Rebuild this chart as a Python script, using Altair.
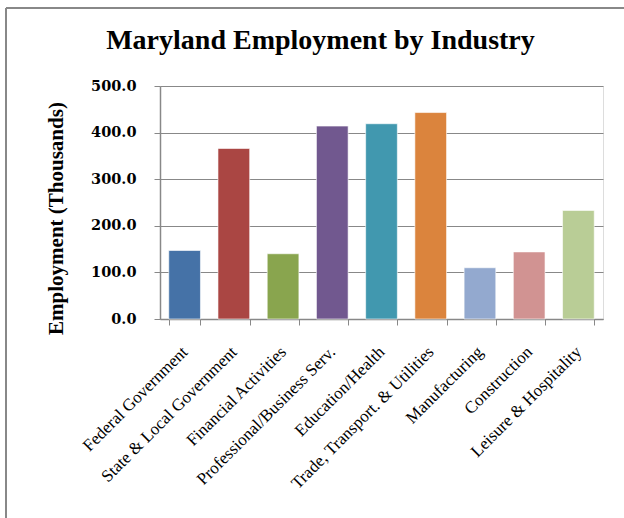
import altair as alt
import pandas as pd

industries = [
    "Federal Government",
    "State & Local Government",
    "Financial Activities",
    "Professional/Business Serv.",
    "Education/Health",
    "Trade, Transport. & Utilities",
    "Manufacturing",
    "Construction",
    "Leisure & Hospitality",
]
employment = [147, 366, 140, 414, 419, 443, 110, 144, 233]
colors = ["#4572A7", "#AA4643", "#89A54E", "#71588F", "#4198AF",
          "#DB843D", "#93A9CF", "#D19392", "#B9CD96"]

df = pd.DataFrame({"industry": industries, "employment": employment})

serif = "Liberation Serif"

bars = alt.Chart(df).mark_bar(stroke="white", strokeWidth=1, strokeOpacity=0.6).encode(
    x=alt.X("industry:N", sort=industries,
            scale=alt.Scale(paddingInner=0.356, paddingOuter=0.178),
            axis=alt.Axis(title=None, labelAngle=-45, labelAlign="right",
                          labelBaseline="middle", labelFont=serif, labelFontSize=17,
                          labelColor="black", labelPadding=24, labelLimit=300,
                          tickBand="extent", tickColor="#888", tickSize=6,
                          domainColor="#888", domainWidth=1.5, grid=False)),
    y=alt.Y("employment:Q",
            scale=alt.Scale(domain=[0, 500], nice=False),
            axis=alt.Axis(title="Employment (Thousands)", values=[0, 100, 200, 300, 400, 500],
                          format=".1f", labelFont="DejaVu Serif", labelFontSize=14.5,
                          labelFontWeight="bold", labelColor="black", labelPadding=18,
                          tickColor="#888", tickSize=6, domainColor="#888",
                          domainWidth=1.5, gridColor="#888", gridWidth=1.2,
                          titleFont=serif, titleFontSize=21, titleFontWeight="bold",
                          titleColor="black", titleAngle=-90, titleX=-104, titleY=132,
                          titleAlign="center", titleBaseline="middle")),
    color=alt.Color("industry:N", sort=industries,
                    scale=alt.Scale(domain=industries, range=colors), legend=None),
)

frame_left = alt.Chart(df).mark_rule(stroke="#888", strokeWidth=2).encode(
    x=alt.value(-154), y=alt.value(-78), y2=alt.value(440)
)
frame_top = alt.Chart(df).mark_rule(stroke="#888", strokeWidth=2).encode(
    x=alt.value(-154), x2=alt.value(470), y=alt.value(-78)
)

chart = alt.layer(frame_left, frame_top, bars).properties(
    width=443,
    height=233,
    padding={"left": 160, "top": 86, "right": 21, "bottom": 199},
    autosize=alt.AutoSizeParams(type="none"),
    title=alt.TitleParams("Maryland Employment by Industry", font=serif, fontSize=28,
                          fontWeight="bold", color="black", offset=-70, dx=-61,
                          anchor="middle", frame="group", baseline="alphabetic"),
).configure_view(stroke=None).configure(background="white")

chart.save("out.html", embed_options={"renderer": "svg", "actions": False})
